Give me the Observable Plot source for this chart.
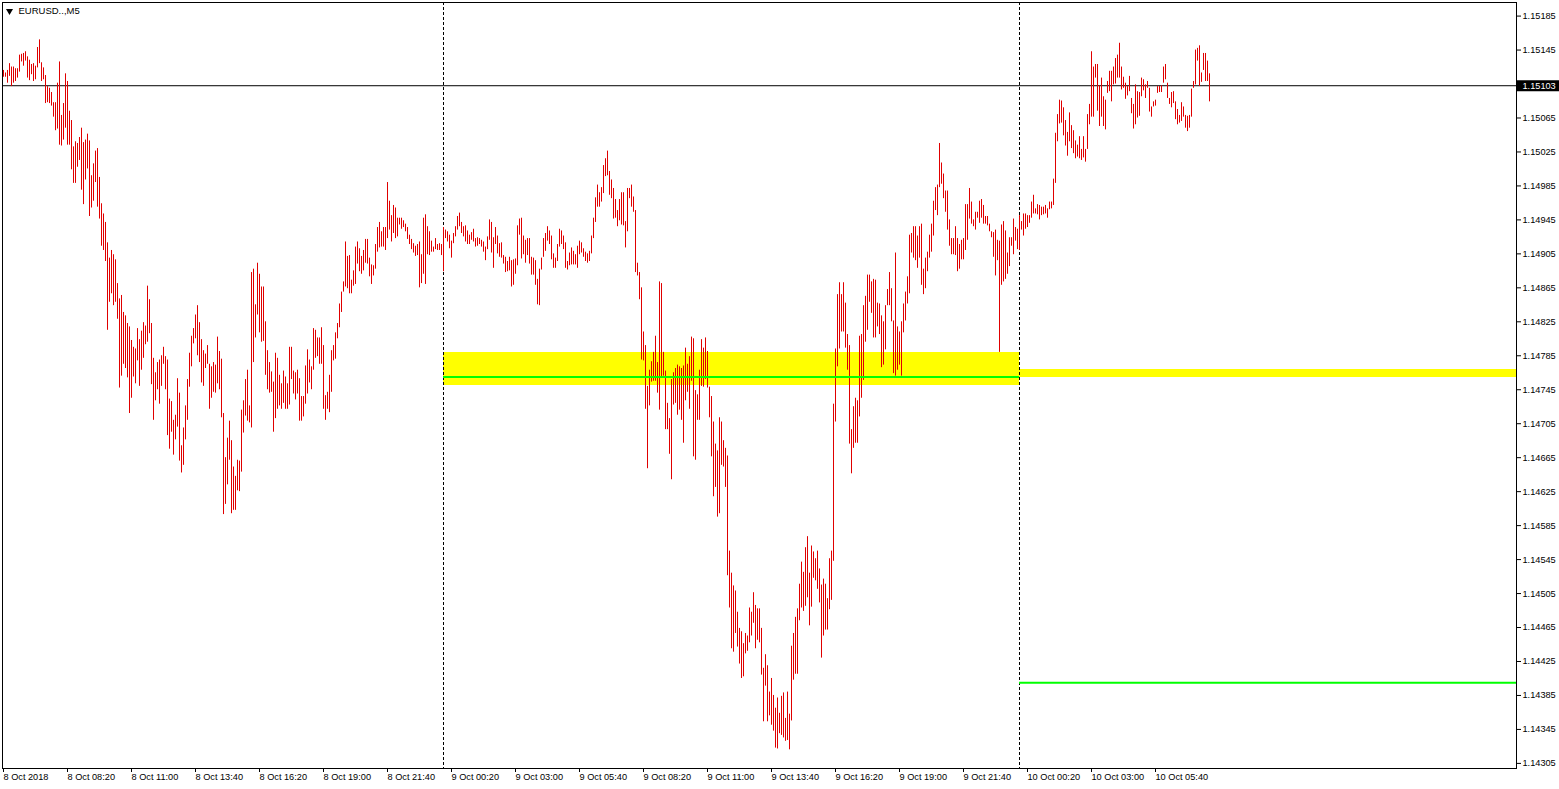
<!DOCTYPE html>
<html>
<head>
<meta charset="utf-8">
<script src="https://cdn.jsdelivr.net/npm/d3@7"></script>
<script src="https://cdn.jsdelivr.net/npm/@observablehq/plot@0.6"></script>
<style>
html, body { margin: 0; padding: 0; background: #ffffff; overflow: hidden; }
#chart svg { display: block; }
</style>
</head>
<body>
<div id="chart"></div>
<script>
// ---- Chart data (EURUSD, M5 bars; bar 0 = 8 Oct 2018 05:40) ----
const symbolLabel = "EURUSD..,M5";

const highs = [
1.15121,1.15118,1.15121,1.15129,1.15125,1.15125,1.15123,1.15123,1.15139,1.15140,
1.15141,1.15143,1.15137,1.15133,1.15128,1.15129,1.15126,1.15148,1.15157,1.15130,
1.15124,1.15115,1.15102,1.15100,1.15095,1.15083,1.15083,1.15106,1.15131,1.15068,
1.15082,1.15117,1.15108,1.15073,1.15062,1.15031,1.15037,1.15035,1.15042,1.15053,
1.15036,1.15039,1.15046,1.15038,1.14997,1.15011,1.15026,1.15029,1.14995,1.14964,
1.14952,1.14942,1.14918,1.14900,1.14909,1.14904,1.14898,1.14870,1.14852,1.14856,
1.14836,1.14832,1.14823,1.14819,1.14803,1.14795,1.14793,1.14817,1.14804,1.14814,
1.14824,1.14820,1.14867,1.14851,1.14823,1.14782,1.14765,1.14777,1.14780,1.14785,
1.14795,1.14784,1.14780,1.14734,1.14731,1.14709,1.14715,1.14758,1.14741,1.14679,
1.14700,1.14726,1.14757,1.14788,1.14808,1.14817,1.14833,1.14844,1.14824,1.14804,
1.14791,1.14787,1.14797,1.14775,1.14772,1.14777,1.14774,1.14807,1.14790,1.14781,
1.14717,1.14665,1.14688,1.14708,1.14685,1.14654,1.14643,1.14662,1.14661,1.14721,
1.14732,1.14757,1.14768,1.14726,1.14883,1.14887,1.14845,1.14894,1.14881,1.14866,
1.14866,1.14825,1.14791,1.14777,1.14766,1.14754,1.14788,1.14782,1.14762,1.14752,
1.14767,1.14760,1.14752,1.14795,1.14795,1.14767,1.14765,1.14768,1.14758,1.14737,
1.14737,1.14773,1.14792,1.14780,1.14772,1.14817,1.14815,1.14806,1.14806,1.14818,
1.14797,1.14738,1.14742,1.14762,1.14791,1.14797,1.14812,1.14823,1.14846,1.14860,
1.14872,1.14919,1.14902,1.14903,1.14874,1.14885,1.14913,1.14919,1.14911,1.14902,
1.14909,1.14922,1.14922,1.14900,1.14892,1.14891,1.14916,1.14936,1.14942,1.14931,
1.14936,1.14936,1.14989,1.14967,1.14950,1.14962,1.14959,1.14947,1.14947,1.14947,
1.14944,1.14940,1.14936,1.14927,1.14922,1.14917,1.14914,1.14916,1.14919,1.14904,
1.14947,1.14951,1.14937,1.14931,1.14920,1.14913,1.14923,1.14916,1.14917,1.14916,
1.14936,1.14933,1.14931,1.14927,1.14920,1.14929,1.14937,1.14949,1.14953,1.14942,
1.14937,1.14938,1.14932,1.14927,1.14930,1.14934,1.14923,1.14924,1.14923,1.14921,
1.14919,1.14913,1.14925,1.14945,1.14942,1.14924,1.14936,1.14926,1.14917,1.14918,
1.14903,1.14901,1.14896,1.14901,1.14897,1.14898,1.14899,1.14938,1.14946,1.14947,
1.14926,1.14921,1.14923,1.14923,1.14901,1.14900,1.14897,1.14875,1.14887,1.14900,
1.14923,1.14929,1.14937,1.14932,1.14926,1.14905,1.14900,1.14916,1.14934,1.14932,
1.14926,1.14918,1.14896,1.14906,1.14912,1.14908,1.14904,1.14914,1.14920,1.14918,
1.14911,1.14907,1.14905,1.14908,1.14926,1.14947,1.14971,1.14986,1.14977,1.14983,
1.15009,1.15017,1.15026,1.15002,1.14992,1.14982,1.14969,1.14956,1.14969,1.14977,
1.14977,1.14943,1.14982,1.14982,1.14986,1.14972,1.14956,1.14894,1.14883,1.14865,
1.14813,1.14797,1.14749,1.14768,1.14778,1.14789,1.14808,1.14777,1.14872,1.14870,
1.14789,1.14767,1.14729,1.14711,1.14757,1.14765,1.14770,1.14774,1.14772,1.14770,
1.14773,1.14794,1.14775,1.14784,1.14807,1.14805,1.14744,1.14739,1.14768,1.14804,
1.14794,1.14806,1.14790,1.14748,1.14737,1.14707,1.14681,1.14673,1.14712,1.14707,
1.14685,1.14676,1.14667,1.14555,1.14529,1.14514,1.14508,1.14483,1.14464,1.14460,
1.14446,1.14458,1.14455,1.14488,1.14483,1.14506,1.14491,1.14487,1.14487,1.14464,
1.14417,1.14433,1.14420,1.14389,1.14405,1.14385,1.14370,1.14382,1.14364,1.14384,
1.14388,1.14358,1.14389,1.14363,1.14443,1.14458,1.14477,1.14487,1.14516,1.14542,
1.14530,1.14559,1.14572,1.14529,1.14561,1.14554,1.14546,1.14555,1.14534,1.14515,
1.14522,1.14516,1.14499,1.14546,1.14555,1.14728,1.14793,1.14857,1.14871,1.14857,
1.14871,1.14847,1.14810,1.14797,1.14698,1.14725,1.14735,1.14732,1.14808,1.14810,
1.14844,1.14855,1.14880,1.14880,1.14872,1.14875,1.14874,1.14847,1.14846,1.14832,
1.14825,1.14844,1.14863,1.14883,1.14864,1.14826,1.14906,1.14819,1.14813,1.14825,
1.14846,1.14860,1.14878,1.14927,1.14929,1.14937,1.14937,1.14926,1.14937,1.14940,
1.14887,1.14900,1.14907,1.14927,1.14940,1.14967,1.14983,1.14986,1.15035,1.15012,
1.14999,1.14979,1.14979,1.14945,1.14923,1.14923,1.14937,1.14923,1.14916,1.14921,
1.14923,1.14963,1.14963,1.14982,1.14966,1.14945,1.14954,1.14954,1.14967,1.14969,
1.14962,1.14949,1.14949,1.14940,1.14931,1.14930,1.14933,1.14921,1.14920,1.14939,
1.14943,1.14932,1.14906,1.14924,1.14924,1.14946,1.14936,1.14934,1.14950,1.14943,
1.14952,1.14952,1.14950,1.14950,1.14966,1.14974,1.14958,1.14963,1.14962,1.14960,
1.14960,1.14962,1.14958,1.14966,1.14966,1.14993,1.15047,1.15069,1.15086,1.15085,
1.15077,1.15062,1.15048,1.15071,1.15056,1.15050,1.15038,1.15033,1.15043,1.15028,
1.15043,1.15028,1.15069,1.15081,1.15143,1.15125,1.15128,1.15128,1.15103,1.15112,
1.15090,1.15086,1.15108,1.15120,1.15120,1.15125,1.15135,1.15139,1.15153,1.15125,
1.15113,1.15106,1.15102,1.15114,1.15088,1.15081,1.15104,1.15096,1.15095,1.15112,
1.15110,1.15104,1.15108,1.15100,1.15078,1.15084,1.15086,1.15102,1.15102,1.15103,
1.15125,1.15128,1.15106,1.15088,1.15095,1.15096,1.15084,1.15075,1.15068,1.15083,
1.15078,1.15068,1.15067,1.15068,1.15099,1.15108,1.15145,1.15147,1.15150,1.15118,
1.15141,1.15141,1.15132,1.15117
];

const lows = [
1.15113,1.15113,1.15106,1.15114,1.15102,1.15106,1.15108,1.15112,1.15119,1.15131,
1.15126,1.15132,1.15112,1.15109,1.15116,1.15108,1.15110,1.15124,1.15129,1.15108,
1.15110,1.15082,1.15083,1.15082,1.15079,1.15066,1.15050,1.15052,1.15033,1.15032,
1.15039,1.15053,1.15033,1.15033,1.15004,1.14988,1.14988,1.15007,1.15015,1.14980,
1.14963,1.14992,1.15005,1.14949,1.14959,1.14967,1.14989,1.14960,1.14946,1.14914,
1.14909,1.14896,1.14815,1.14848,1.14858,1.14844,1.14848,1.14828,1.14747,1.14761,
1.14775,1.14770,1.14759,1.14717,1.14735,1.14760,1.14752,1.14779,1.14749,1.14768,
1.14782,1.14798,1.14801,1.14811,1.14751,1.14709,1.14732,1.14745,1.14728,1.14749,
1.14775,1.14745,1.14691,1.14675,1.14695,1.14668,1.14686,1.14701,1.14661,1.14647,
1.14656,1.14686,1.14709,1.14748,1.14772,1.14799,1.14805,1.14785,1.14777,1.14753,
1.14749,1.14770,1.14775,1.14722,1.14735,1.14742,1.14741,1.14752,1.14745,1.14712,
1.14598,1.14610,1.14633,1.14662,1.14599,1.14603,1.14603,1.14626,1.14625,1.14648,
1.14694,1.14714,1.14708,1.14706,1.14700,1.14777,1.14806,1.14833,1.14812,1.14801,
1.14802,1.14762,1.14745,1.14741,1.14742,1.14695,1.14711,1.14722,1.14726,1.14722,
1.14729,1.14722,1.14722,1.14727,1.14757,1.14740,1.14733,1.14740,1.14708,1.14708,
1.14713,1.14728,1.14740,1.14753,1.14745,1.14768,1.14782,1.14784,1.14775,1.14775,
1.14722,1.14709,1.14722,1.14718,1.14742,1.14779,1.14781,1.14805,1.14818,1.14836,
1.14860,1.14866,1.14864,1.14858,1.14858,1.14867,1.14869,1.14893,1.14884,1.14881,
1.14885,1.14894,1.14893,1.14878,1.14869,1.14879,1.14887,1.14907,1.14912,1.14913,
1.14913,1.14909,1.14923,1.14933,1.14919,1.14929,1.14923,1.14925,1.14939,1.14934,
1.14936,1.14931,1.14922,1.14916,1.14910,1.14906,1.14902,1.14903,1.14865,1.14870,
1.14881,1.14869,1.14904,1.14903,1.14907,1.14907,1.14910,1.14909,1.14909,1.14903,
1.14884,1.14923,1.14919,1.14911,1.14900,1.14917,1.14925,1.14933,1.14937,1.14929,
1.14925,1.14919,1.14916,1.14916,1.14921,1.14919,1.14913,1.14914,1.14916,1.14913,
1.14907,1.14897,1.14910,1.14921,1.14906,1.14888,1.14916,1.14905,1.14901,1.14900,
1.14893,1.14883,1.14884,1.14885,1.14866,1.14868,1.14881,1.14891,1.14927,1.14899,
1.14904,1.14894,1.14903,1.14893,1.14880,1.14880,1.14868,1.14845,1.14844,1.14886,
1.14901,1.14908,1.14920,1.14916,1.14898,1.14888,1.14888,1.14896,1.14913,1.14916,
1.14910,1.14888,1.14886,1.14891,1.14892,1.14892,1.14892,1.14888,1.14904,1.14906,
1.14901,1.14896,1.14894,1.14896,1.14905,1.14923,1.14942,1.14960,1.14960,1.14966,
1.14976,1.14996,1.14997,1.14974,1.14970,1.14946,1.14947,1.14937,1.14944,1.14939,
1.14938,1.14912,1.14931,1.14970,1.14960,1.14954,1.14883,1.14879,1.14851,1.14780,
1.14779,1.14722,1.14652,1.14726,1.14754,1.14755,1.14755,1.14741,1.14721,1.14759,
1.14761,1.14698,1.14698,1.14669,1.14639,1.14727,1.14729,1.14715,1.14721,1.14709,
1.14682,1.14732,1.14742,1.14722,1.14755,1.14666,1.14662,1.14709,1.14709,1.14749,
1.14748,1.14757,1.14747,1.14712,1.14666,1.14619,1.14630,1.14595,1.14599,1.14656,
1.14654,1.14630,1.14526,1.14488,1.14440,1.14436,1.14458,1.14442,1.14422,1.14405,
1.14407,1.14434,1.14437,1.14447,1.14455,1.14470,1.14440,1.14450,1.14447,1.14409,
1.14354,1.14396,1.14354,1.14361,1.14350,1.14343,1.14323,1.14322,1.14340,1.14338,
1.14335,1.14331,1.14332,1.14321,1.14355,1.14403,1.14410,1.14410,1.14473,1.14488,
1.14484,1.14490,1.14500,1.14467,1.14489,1.14523,1.14520,1.14510,1.14494,1.14429,
1.14455,1.14462,1.14462,1.14486,1.14497,1.14543,1.14707,1.14772,1.14793,1.14813,
1.14813,1.14794,1.14768,1.14681,1.14646,1.14676,1.14682,1.14682,1.14713,1.14735,
1.14756,1.14801,1.14815,1.14848,1.14835,1.14806,1.14806,1.14819,1.14810,1.14771,
1.14774,1.14792,1.14844,1.14844,1.14825,1.14764,1.14761,1.14768,1.14774,1.14761,
1.14812,1.14826,1.14846,1.14858,1.14906,1.14900,1.14897,1.14888,1.14900,1.14868,
1.14857,1.14864,1.14884,1.14900,1.14907,1.14926,1.14956,1.14950,1.14983,1.14987,
1.14970,1.14954,1.14933,1.14914,1.14904,1.14904,1.14903,1.14884,1.14887,1.14898,
1.14898,1.14909,1.14921,1.14946,1.14940,1.14937,1.14933,1.14947,1.14941,1.14947,
1.14940,1.14940,1.14938,1.14931,1.14924,1.14901,1.14879,1.14897,1.14789,1.14868,
1.14872,1.14875,1.14881,1.14890,1.14914,1.14904,1.14920,1.14910,1.14909,1.14933,
1.14926,1.14934,1.14936,1.14941,1.14947,1.14952,1.14952,1.14951,1.14945,1.14950,
1.14951,1.14952,1.14947,1.14957,1.14958,1.14962,1.14988,1.15037,1.15058,1.15059,
1.15044,1.15032,1.15020,1.15037,1.15029,1.15023,1.15017,1.15019,1.15017,1.15015,
1.15018,1.15013,1.15028,1.15057,1.15066,1.15066,1.15112,1.15073,1.15055,1.15066,
1.15055,1.15051,1.15094,1.15096,1.15084,1.15104,1.15105,1.15112,1.15112,1.15098,
1.15100,1.15087,1.15091,1.15096,1.15070,1.15052,1.15057,1.15065,1.15067,1.15090,
1.15097,1.15088,1.15100,1.15072,1.15066,1.15078,1.15079,1.15094,1.15095,1.15095,
1.15106,1.15110,1.15088,1.15081,1.15077,1.15082,1.15063,1.15057,1.15059,1.15061,
1.15066,1.15053,1.15049,1.15053,1.15066,1.15100,1.15104,1.15132,1.15102,1.15107,
1.15121,1.15108,1.15108,1.15084
];

// x axis: bar index of each time label (every 32 bars = 2h40)
const xTickBars = [0, 32, 64, 96, 128, 160, 192, 224, 256, 288, 320, 352, 384, 416, 448, 480, 512, 544, 576];
const xTickLabels = ["8 Oct 2018", "8 Oct 08:20", "8 Oct 11:00", "8 Oct 13:40", "8 Oct 16:20", "8 Oct 19:00",
  "8 Oct 21:40", "9 Oct 00:20", "9 Oct 03:00", "9 Oct 05:40", "9 Oct 08:20", "9 Oct 11:00", "9 Oct 13:40",
  "9 Oct 16:20", "9 Oct 19:00", "9 Oct 21:40", "10 Oct 00:20", "10 Oct 03:00", "10 Oct 05:40"];

// y axis price ticks
const yTickValues = [1.15185, 1.15145, 1.15065, 1.15025, 1.14985, 1.14945, 1.14905, 1.14865, 1.14825,
  1.14785, 1.14745, 1.14705, 1.14665, 1.14625, 1.14585, 1.14545, 1.14505, 1.14465, 1.14425, 1.14385,
  1.14345, 1.14305];

const currentPrice = 1.15103;
const daySeparatorBars = [220, 508];          // 9 Oct 00:00, 10 Oct 00:00
const zoneBars = [220, 508];                  // yellow zone on 9 Oct
const zonePrices = [1.14750, 1.14789];
const bandPrices = [1.14760, 1.14769];        // thin yellow band from 10 Oct
const levelMain = 1.14760;                    // green level inside the 9 Oct zone
const levelLow = 1.14400;                     // green level from 10 Oct

const xDomain = [-0.5, 756.5];
const yDomain = [1.14299, 1.15201];

// ---- build ----
const bars = highs.map((h, i) => ({i, high: h, low: lows[i]})).filter(d => d.low != null);
const labelOf = new Map(xTickBars.map((b, k) => [b, xTickLabels[k]]));
const rightEdge = xDomain[1];

const zone = [{x1: zoneBars[0], x2: zoneBars[1], y1: zonePrices[0], y2: zonePrices[1]}];
const band = [{x1: zoneBars[1], x2: rightEdge, y1: bandPrices[0], y2: bandPrices[1]}];
const levels = [
  {y: levelMain, x1: zoneBars[0], x2: zoneBars[1]},
  {y: levelLow, x1: zoneBars[1], x2: rightEdge}
];

const red = "#e00000";
const chart = Plot.plot({
  width: 1559,
  height: 789,
  marginLeft: 2,
  marginRight: 43,
  marginTop: 2,
  marginBottom: 21,
  x: {domain: xDomain, label: null},
  y: {domain: yDomain, label: null},
  style: {
    fontFamily: "'Liberation Sans', Arial, sans-serif",
    fontSize: "9.2px",
    color: "#000",
    background: "#ffffff",
    overflow: "visible"
  },
  marks: [
    Plot.rect(zone, {x1: "x1", x2: "x2", y1: "y1", y2: "y2", fill: "#ffff00", shapeRendering: "crispEdges"}),
    Plot.rect(band, {x1: "x1", x2: "x2", y1: "y1", y2: "y2", fill: "#ffff00", shapeRendering: "crispEdges"}),
    Plot.ruleX(daySeparatorBars, {x: d => d, stroke: "#000", strokeDasharray: "3,2", strokeWidth: 1}),
    Plot.ruleY([currentPrice], {y: d => d, stroke: "#000", strokeWidth: 1}),
    Plot.ruleX(bars, {x: "i", y1: "low", y2: "high", stroke: red, strokeWidth: 1}),
    Plot.ruleY(levels, {y: "y", x1: "x1", x2: "x2", stroke: "#00ff00", strokeWidth: 2}),
    Plot.frame({stroke: "#000"}),
    Plot.axisY({
      ticks: yTickValues, anchor: "right", tickSize: 4, tickPadding: 2,
      tickFormat: d => d.toFixed(5), label: null, fill: "#000", stroke: "#000"
    }),
    Plot.axisX({
      ticks: xTickBars, anchor: "bottom", tickSize: 4, tickPadding: 1,
      tickFormat: d => labelOf.get(d), textAnchor: "start", label: null, fill: "#000", stroke: "#000"
    }),
    // current price marker on the price scale
    Plot.ruleY([currentPrice], {y: d => d, x1: rightEdge + 0.5, x2: rightEdge + 22, stroke: "#000", strokeWidth: 11}),
    Plot.text([currentPrice], {y: d => d, frameAnchor: "right", dx: 6, text: d => d.toFixed(5),
      textAnchor: "start", fill: "#ffffff", fontSize: 9.2}),
    // symbol caption
    Plot.dot([symbolLabel], {frameAnchor: "top-left", dx: 7, dy: 8.5, symbol: "triangle", rotate: 180, r: 2.6, fill: "#000", stroke: null}),
    Plot.text([symbolLabel], {frameAnchor: "top-left", dx: 16, dy: 5, text: d => d, textAnchor: "start",
      lineAnchor: "top", fontSize: 9.5, fill: "#000"})
  ]
});
document.getElementById("chart").appendChild(chart);
</script>
</body>
</html>
